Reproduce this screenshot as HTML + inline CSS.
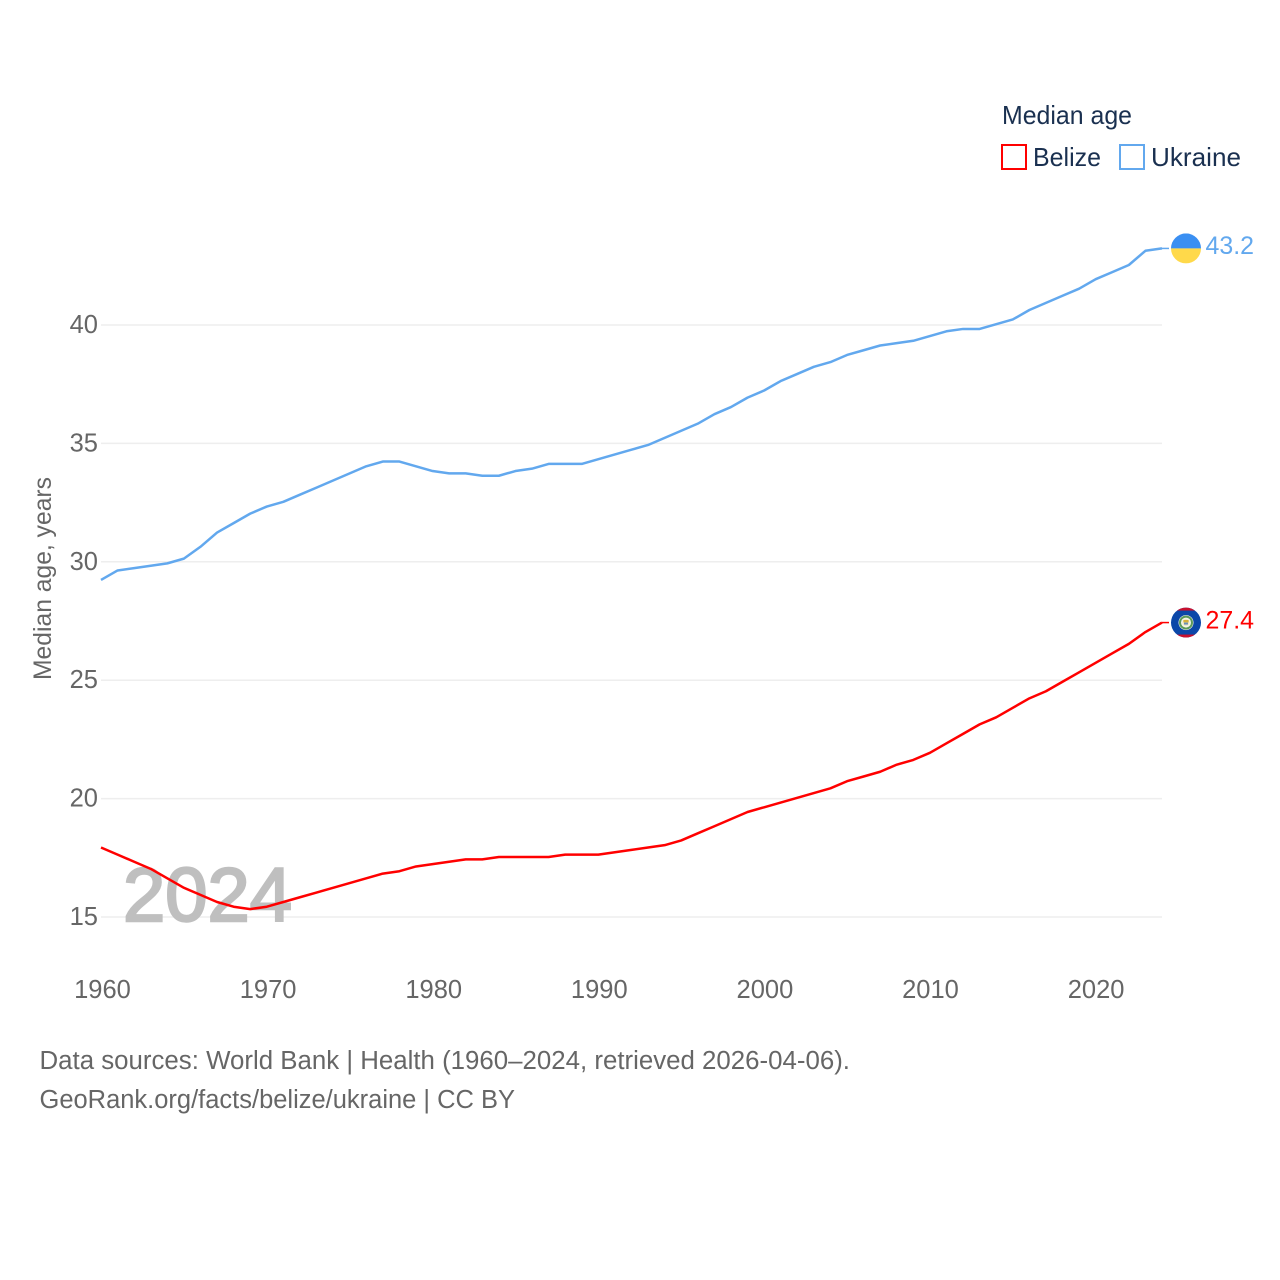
<!DOCTYPE html>
<html lang="en">
<head>
<meta charset="utf-8">
<title>Median age: Belize and Ukraine</title>
<style>
html,body{margin:0;padding:0;background:#fff;}
svg{display:block;}
text{font-family:"Liberation Sans",Arial,sans-serif;}
</style>
</head>
<body>
<svg id="chart" xmlns="http://www.w3.org/2000/svg" width="1280" height="1280" viewBox="0 0 1280 1280">
  <rect x="0" y="0" width="1280" height="1280" fill="#fff"/>
  <defs>
    <clipPath id="ua-clip"><circle cx="0" cy="0" r="15"/></clipPath>
    <clipPath id="bz-clip"><circle cx="0" cy="0" r="15"/></clipPath>
  </defs>
  <g id="grid"></g>
  <text x="123" y="921" font-size="76" font-weight="400" fill="#bfbfbf" stroke="#bfbfbf" stroke-width="2.4" textLength="169" lengthAdjust="spacingAndGlyphs">2024</text>
  <g id="y-ticks"></g>
  <g id="x-ticks"></g>
  <text transform="translate(51,680) rotate(-90)" font-size="25" fill="#666" textLength="203" lengthAdjust="spacingAndGlyphs">Median age, years</text>
  <g id="series"></g>
  <g id="ukraine-flag">
    <g clip-path="url(#ua-clip)">
      <rect x="-15" y="-15" width="30" height="15" fill="#3a8ff2"/>
      <rect x="-15" y="0" width="30" height="15" fill="#ffd94a"/>
    </g>
  </g>
  <g id="belize-flag">
    <g clip-path="url(#bz-clip)">
      <rect x="-15" y="-15" width="30" height="30" fill="#0b47a8"/>
      <rect x="-15" y="-15" width="30" height="3" fill="#c8102e"/>
      <rect x="-15" y="12" width="30" height="3" fill="#c8102e"/>
      <circle r="7.5" fill="#f4f4ea"/>
      <circle r="6" fill="none" stroke="#5c9a5a" stroke-width="2"/>
      <circle r="3.4" fill="#f2e9c0"/>
      <rect x="-2.6" y="-2.6" width="5.2" height="2.4" fill="#d8b13a"/>
      <rect x="-2" y="0" width="4" height="2" fill="#6b8fb8"/>
    </g>
  </g>
  <text id="ukraine-value" x="1205.5" font-size="25" fill="#62a8ee" textLength="48.5" lengthAdjust="spacingAndGlyphs"></text>
  <text id="belize-value" x="1205.5" font-size="25" fill="#ff0000" textLength="48.5" lengthAdjust="spacingAndGlyphs"></text>

  <g>
    <text x="1002" y="124" font-size="26" fill="#1a3050" textLength="130" lengthAdjust="spacingAndGlyphs">Median age</text>
    <g>
      <rect x="1002" y="145" width="24" height="24" fill="#fff" stroke="#ff0000" stroke-width="2"/>
      <text x="1033" y="166" font-size="26" fill="#1a3050" textLength="68" lengthAdjust="spacingAndGlyphs">Belize</text>
    </g>
    <g>
      <rect x="1120" y="145" width="24" height="24" fill="#fff" stroke="#62a8ee" stroke-width="2"/>
      <text x="1151" y="166" font-size="26" fill="#1a3050" textLength="90" lengthAdjust="spacingAndGlyphs">Ukraine</text>
    </g>
  </g>

  <text x="39.5" y="1069" font-size="25.5" fill="#666" textLength="810.5" lengthAdjust="spacingAndGlyphs">Data sources: World Bank | Health (1960–2024, retrieved 2026-04-06).</text>
  <text x="39.5" y="1108" font-size="25.5" fill="#666" textLength="475.5" lengthAdjust="spacingAndGlyphs">GeoRank.org/facts/belize/ukraine | CC BY</text>
</svg>
<script>
const years = [1960,1961,1962,1963,1964,1965,1966,1967,1968,1969,1970,1971,1972,1973,1974,1975,1976,1977,1978,1979,1980,1981,1982,1983,1984,1985,1986,1987,1988,1989,1990,1991,1992,1993,1994,1995,1996,1997,1998,1999,2000,2001,2002,2003,2004,2005,2006,2007,2008,2009,2010,2011,2012,2013,2014,2015,2016,2017,2018,2019,2020,2021,2022,2023,2024];
const ukraineValues = [29.2,29.6,29.7,29.8,29.9,30.1,30.6,31.2,31.6,32.0,32.3,32.5,32.8,33.1,33.4,33.7,34.0,34.2,34.2,34.0,33.8,33.7,33.7,33.6,33.6,33.8,33.9,34.1,34.1,34.1,34.3,34.5,34.7,34.9,35.2,35.5,35.8,36.2,36.5,36.9,37.2,37.6,37.9,38.2,38.4,38.7,38.9,39.1,39.2,39.3,39.5,39.7,39.8,39.8,40.0,40.2,40.6,40.9,41.2,41.5,41.9,42.2,42.5,43.1,43.2];
const belizeValues = [17.9,17.6,17.3,17.0,16.6,16.2,15.9,15.6,15.4,15.3,15.4,15.6,15.8,16.0,16.2,16.4,16.6,16.8,16.9,17.1,17.2,17.3,17.4,17.4,17.5,17.5,17.5,17.5,17.6,17.6,17.6,17.7,17.8,17.9,18.0,18.2,18.5,18.8,19.1,19.4,19.6,19.8,20.0,20.2,20.4,20.7,20.9,21.1,21.4,21.6,21.9,22.3,22.7,23.1,23.4,23.8,24.2,24.5,24.9,25.3,25.7,26.1,26.5,27.0,27.4];
const yTickValues = [15,20,25,30,35,40];
const xTickValues = [1960,1970,1980,1990,2000,2010,2020];

const NS = 'http://www.w3.org/2000/svg';
const plotLeft = 101, plotRight = 1162;
function xScale(year) { return plotLeft + (year - 1960) * (plotRight - plotLeft) / 64; }
function yScale(v) { return 917 - (v - 15) * 23.68; }
function markY(v) { return yScale(v) - 0.8; }
function tickX(year) { return 102.5 + (year - 1960) * 16.56; }

const gridGroup = document.getElementById('grid');
const yTickGroup = document.getElementById('y-ticks');
yTickValues.forEach(function (v) {
  const line = document.createElementNS(NS, 'line');
  
  
  line.setAttribute('x1', plotLeft);
  line.setAttribute('x2', plotRight);
  line.setAttribute('y1', yScale(v));
  line.setAttribute('y2', yScale(v));
  line.setAttribute('stroke', '#eeeeee');
  line.setAttribute('stroke-width', '1.5');
  gridGroup.appendChild(line);

  const label = document.createElementNS(NS, 'text');
  
  
  label.setAttribute('x', 98);
  label.setAttribute('y', yScale(v) + 8);
  label.setAttribute('text-anchor', 'end');
  label.setAttribute('font-size', '25.5');
  label.setAttribute('fill', '#666');
  label.textContent = v;
  yTickGroup.appendChild(label);
});

const xTickGroup = document.getElementById('x-ticks');
xTickValues.forEach(function (year) {
  const label = document.createElementNS(NS, 'text');
  
  
  label.setAttribute('x', tickX(year));
  label.setAttribute('y', 998);
  label.setAttribute('text-anchor', 'middle');
  label.setAttribute('font-size', '25.5');
  label.setAttribute('fill', '#666');
  label.textContent = year;
  xTickGroup.appendChild(label);
});

function linePoints(values) {
  return values.map(function (v, i) {
    return xScale(years[i]).toFixed(2) + ',' + markY(v).toFixed(2);
  }).join(' ');
}

const seriesGroup = document.getElementById('series');

const ukraineLine = document.createElementNS(NS, 'polyline');


ukraineLine.setAttribute('points', linePoints(ukraineValues));
ukraineLine.setAttribute('fill', 'none');
ukraineLine.setAttribute('stroke', '#62a8ee');
ukraineLine.setAttribute('stroke-width', '2.5');
ukraineLine.setAttribute('stroke-linejoin', 'round');
seriesGroup.appendChild(ukraineLine);

const belizeLine = document.createElementNS(NS, 'polyline');


belizeLine.setAttribute('points', linePoints(belizeValues));
belizeLine.setAttribute('fill', 'none');
belizeLine.setAttribute('stroke', '#ff0000');
belizeLine.setAttribute('stroke-width', '2.5');
belizeLine.setAttribute('stroke-linejoin', 'round');
seriesGroup.appendChild(belizeLine);

const ukraineLast = ukraineValues[ukraineValues.length - 1];
const belizeLast = belizeValues[belizeValues.length - 1];

const ukraineLead = document.createElementNS(NS, 'line');


ukraineLead.setAttribute('x1', plotRight);
ukraineLead.setAttribute('x2', plotRight + 7);
ukraineLead.setAttribute('y1', markY(ukraineLast));
ukraineLead.setAttribute('y2', markY(ukraineLast));
ukraineLead.setAttribute('stroke', '#62a8ee');
ukraineLead.setAttribute('stroke-width', '1.5');
seriesGroup.appendChild(ukraineLead);

const belizeLead = document.createElementNS(NS, 'line');


belizeLead.setAttribute('x1', plotRight);
belizeLead.setAttribute('x2', plotRight + 7);
belizeLead.setAttribute('y1', markY(belizeLast));
belizeLead.setAttribute('y2', markY(belizeLast));
belizeLead.setAttribute('stroke', '#ff0000');
belizeLead.setAttribute('stroke-width', '1.5');
seriesGroup.appendChild(belizeLead);

document.getElementById('ukraine-flag').setAttribute('transform', 'translate(1186,' + markY(ukraineLast) + ')');
document.getElementById('belize-flag').setAttribute('transform', 'translate(1186,' + markY(belizeLast) + ')');

const ukraineValueLabel = document.getElementById('ukraine-value');
ukraineValueLabel.setAttribute('y', yScale(ukraineLast) + 5);
ukraineValueLabel.textContent = ukraineLast.toFixed(1);

const belizeValueLabel = document.getElementById('belize-value');
belizeValueLabel.setAttribute('y', yScale(belizeLast) + 5);
belizeValueLabel.textContent = belizeLast.toFixed(1);
</script>
</body>
</html>
